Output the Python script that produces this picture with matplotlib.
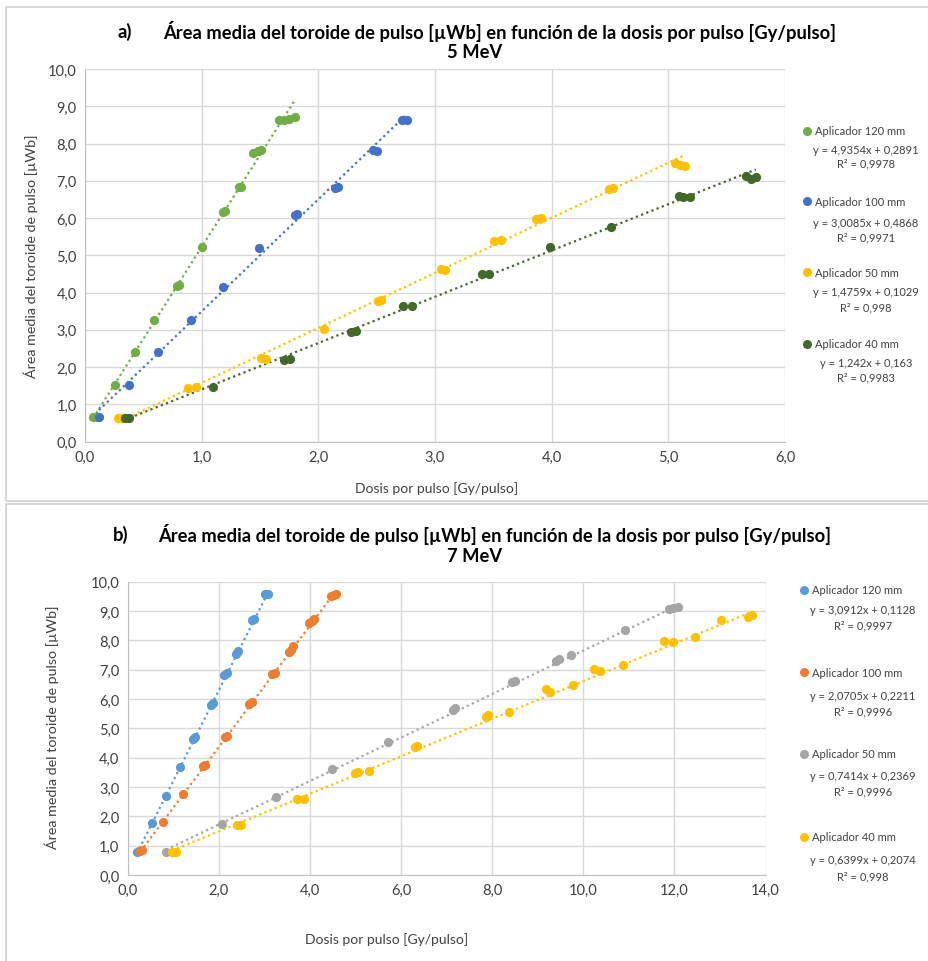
import matplotlib
matplotlib.use("Agg")
import matplotlib.pyplot as plt
from matplotlib.patches import Rectangle
import numpy as np

plt.rcParams['font.family'] = ['Lato', 'DejaVu Sans']

W, H = 929, 962

# ---- data: a) 5 MeV ----
a_names = ["Aplicador 120 mm", "Aplicador 100 mm", "Aplicador 50 mm", "Aplicador 40 mm"]
a_colors = ["#70AD47", "#4472C4", "#FFC000", "#43682B"]
a_x = [
    [0.07, 0.10, 0.26, 0.43, 0.59, 0.79, 0.81, 1.00, 1.18, 1.20, 1.32, 1.34, 1.44, 1.48, 1.51, 1.66, 1.71, 1.75, 1.80],
    [0.12, 0.38, 0.63, 0.91, 1.18, 1.49, 1.80, 1.82, 2.14, 2.17, 2.47, 2.50, 2.72, 2.76],
    [0.28, 0.32, 0.88, 0.95, 1.51, 1.55, 2.05, 2.51, 2.54, 3.05, 3.09, 3.51, 3.57, 3.87, 3.91, 4.49, 4.53, 5.06, 5.10, 5.14],
    [0.34, 0.38, 1.10, 1.71, 1.76, 2.28, 2.32, 2.73, 2.80, 3.40, 3.46, 3.99, 4.51, 5.09, 5.13, 5.19, 5.67, 5.71, 5.75],
]
a_y = [
    [0.65, 0.65, 1.53, 2.41, 3.27, 4.18, 4.21, 5.22, 6.15, 6.18, 6.84, 6.84, 7.75, 7.79, 7.82, 8.63, 8.62, 8.66, 8.70],
    [0.65, 1.53, 2.40, 3.27, 4.16, 5.20, 6.08, 6.11, 6.82, 6.83, 7.83, 7.81, 8.63, 8.63],
    [0.63, 0.63, 1.44, 1.46, 2.25, 2.23, 3.02, 3.77, 3.79, 4.64, 4.62, 5.38, 5.41, 5.97, 5.99, 6.79, 6.82, 7.48, 7.42, 7.41],
    [0.63, 0.64, 1.46, 2.20, 2.21, 2.95, 2.97, 3.65, 3.65, 4.49, 4.51, 5.22, 5.75, 6.58, 6.56, 6.57, 7.13, 7.05, 7.10],
]
a_slope = [4.9354, 3.0085, 1.4759, 1.242]
a_icpt = [0.2891, 0.4868, 0.1029, 0.163]
a_r2 = ["0,9978", "0,9971", "0,998", "0,9983"]

# ---- data: b) 7 MeV ----
b_names = ["Aplicador 120 mm", "Aplicador 100 mm", "Aplicador 50 mm", "Aplicador 40 mm"]
b_colors = ["#5B9BD5", "#ED7D31", "#A5A5A5", "#FFC000"]
b_x = [
    [0.20, 0.24, 0.53, 0.84, 1.15, 1.44, 1.48, 1.82, 1.87, 2.12, 2.17, 2.37, 2.43, 2.72, 2.78, 3.02, 3.07],
    [0.28, 0.31, 0.77, 1.22, 1.66, 1.69, 2.13, 2.17, 2.66, 2.72, 3.16, 3.24, 3.55, 3.59, 3.63, 3.97, 4.05, 4.10, 4.47, 4.53, 4.58],
    [0.84, 2.06, 3.26, 4.49, 5.71, 7.15, 7.19, 8.43, 8.50, 9.41, 9.46, 9.72, 10.91, 11.88, 11.98, 12.08],
    [0.97, 1.05, 2.40, 2.48, 3.72, 3.88, 4.98, 5.05, 5.29, 6.31, 6.35, 7.86, 7.90, 8.36, 9.19, 9.27, 9.78, 10.23, 10.36, 10.87, 11.77, 11.96, 12.46, 13.02, 13.62, 13.70],
]
b_y = [
    [0.80, 0.82, 1.77, 2.71, 3.69, 4.63, 4.69, 5.80, 5.87, 6.82, 6.88, 7.55, 7.63, 8.68, 8.74, 9.59, 9.59],
    [0.83, 0.86, 1.80, 2.77, 3.71, 3.74, 4.69, 4.74, 5.83, 5.89, 6.84, 6.89, 7.60, 7.66, 7.81, 8.60, 8.65, 8.72, 9.52, 9.56, 9.57],
    [0.78, 1.74, 2.67, 3.61, 4.55, 5.63, 5.68, 6.58, 6.62, 7.30, 7.35, 7.50, 8.34, 9.07, 9.10, 9.14],
    [0.78, 0.78, 1.70, 1.71, 2.60, 2.60, 3.48, 3.52, 3.53, 4.35, 4.40, 5.40, 5.46, 5.55, 6.34, 6.23, 6.48, 7.02, 6.97, 7.16, 7.99, 7.96, 8.12, 8.69, 8.80, 8.87],
]
b_slope = [3.0912, 2.0705, 0.7414, 0.6399]
b_icpt = [0.1128, 0.2211, 0.2369, 0.2074]
b_r2 = ["0,9997", "0,9996", "0,9996", "0,998"]

TITLE = "Área media del toroide de pulso [µWb] en función de la dosis por pulso [Gy/pulso]"
YLAB = "Área media del toroide de pulso [µWb]"
XLAB = "Dosis por pulso [Gy/pulso]"


def fx(x):
    return x / W


def fy(y):
    return 1 - y / H


def comma(v, dec):
    return f"{v:.{dec}f}".replace(".", ",")


fig = plt.figure(figsize=(W / 100, H / 100), dpi=100)

# panel frames
for top, bot in [(8, 502), (505, 975)]:
    fig.add_artist(Rectangle((fx(6), fy(bot)), fx(940) - fx(6), fy(top) - fy(bot),
                             transform=fig.transFigure, fill=False, edgecolor="#D0D0D0", lw=1.2))


def panel(rect, xmax, xstep, xs, ys, cols, slopes, icpts):
    l, t, r, b = rect
    ax = fig.add_axes([fx(l), fy(b), fx(r) - fx(l), fy(t) - fy(b)])
    for x, y, c, m, q in zip(xs, ys, cols, slopes, icpts):
        xl = np.array([min(x), max(x)])
        ax.plot(xl, m * xl + q, ls=(0, (1, 1.5)), color=c, lw=1.6, zorder=2)
        ax.scatter(x, y, s=44, color=c, zorder=3, linewidths=0)
    ax.set_xlim(0, xmax)
    ax.set_ylim(0, 10)
    xt = np.arange(0, xmax + 0.001, xstep)
    ax.set_xticks(xt)
    ax.set_xticklabels([comma(v, 1) for v in xt])
    yt = np.arange(0, 10.001, 1)
    ax.set_yticks(yt)
    ax.set_yticklabels([comma(v, 1) for v in yt])
    ax.grid(True, color="#D9D9D9", lw=1)
    ax.set_axisbelow(True)
    for s in ["top", "right"]:
        ax.spines[s].set_visible(False)
    for s in ["left", "bottom"]:
        ax.spines[s].set_color("#BFBFBF")
    ax.tick_params(length=0, labelsize=10.5, colors="#404040", pad=6)
    return ax


def legend(xm, ys_name, ys_eq, ys_r2, names, cols, slopes, icpts, r2s):
    for yn, ye, yr, n, c, m, q, r2 in zip(ys_name, ys_eq, ys_r2, names, cols, slopes, icpts, r2s):
        fig.text(fx(xm + 4), fy(yn), n, fontsize=8, color="#404040", va="center", ha="left")
        fig.add_artist(plt.Line2D([fx(xm - 4)], [fy(yn)], marker="o", ms=5.5, color=c,
                                  mec=c, transform=fig.transFigure))
        eq = f"y = {comma(m, len(str(m).split('.')[1]))}x + {comma(q, len(str(q).split('.')[1]))}"
        fig.text(fx(xm + 55), fy(ye), eq, fontsize=8, color="#404040", va="center", ha="center")
        fig.text(fx(xm + 55), fy(yr), f"R² = {r2}", fontsize=8, color="#404040", va="center", ha="center")


def titles(lab, xlab, xtit, ytit, sub, xsub):
    fig.text(fx(xlab), fy(ytit), lab, fontsize=13.2, fontweight="bold", ha="left", va="center")
    fig.text(fx(xtit), fy(ytit), TITLE, fontsize=13.2, fontweight="bold", ha="left", va="center")
    fig.text(fx(xsub), fy(ytit + 21), sub, fontsize=13.2, fontweight="bold", ha="center", va="center")


# panel a
panel((85, 70, 785, 442.7), 6, 1, a_x, a_y, a_colors, a_slope, a_icpt)
titles("a)", 118, 163, 32, "5 MeV", 475)
fig.text(fx(31), fy(256), YLAB, rotation=90, fontsize=10.3, ha="center", va="center", color="#404040")
fig.text(fx(437), fy(489), XLAB, fontsize=10, ha="center", va="center", color="#404040")
legend(811, [131.7, 202.3, 273.3, 345], [150, 223.3, 292.7, 363.3], [164.3, 237.7, 308.3, 378.3],
       a_names, a_colors, a_slope, a_icpt, a_r2)

# panel b
panel((127.7, 582.7, 765.5, 876), 14, 2, b_x, b_y, b_colors, b_slope, b_icpt)
titles("b)", 113, 158, 535, "7 MeV", 475)
fig.text(fx(52), fy(727), YLAB, rotation=90, fontsize=10.3, ha="center", va="center", color="#404040")
fig.text(fx(387), fy(940), XLAB, fontsize=10, ha="center", va="center", color="#404040")
legend(808, [591, 673.3, 755, 837.7], [610.7, 696.7, 776.7, 861], [625.7, 712.3, 792.3, 876.7],
       b_names, b_colors, b_slope, b_icpt, b_r2)

fig.savefig("out.png", dpi=100)
